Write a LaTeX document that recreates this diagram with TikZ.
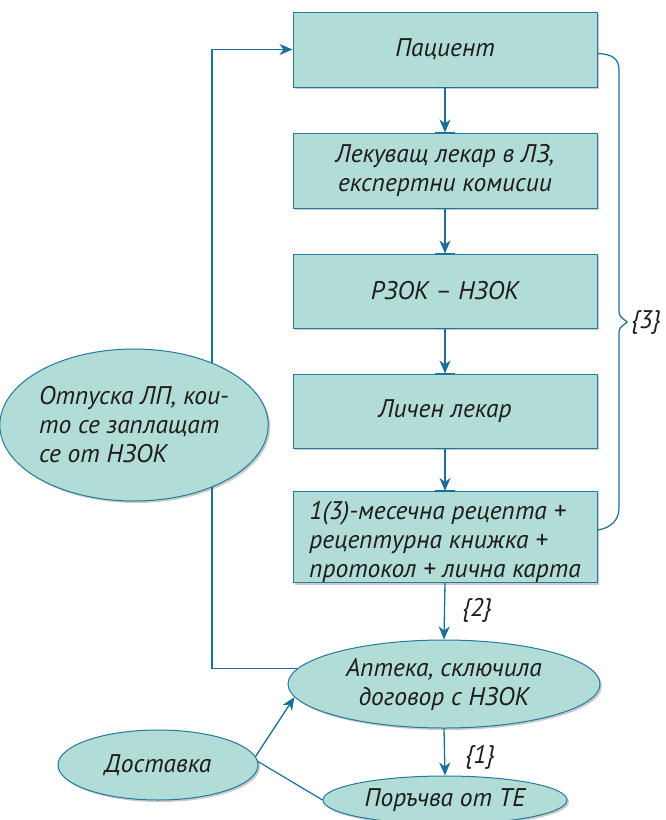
\documentclass[tikz,border=0pt]{standalone}
\usepackage{fontspec}
\setmainfont{PT Sans}
\usetikzlibrary{shapes.geometric,arrows.meta,shadows,backgrounds,calc}
\definecolor{boxfill}{HTML}{B1DDD6}
\definecolor{boxline}{HTML}{2379A0}
\definecolor{arrowc}{HTML}{1B6E98}
\definecolor{txtc}{HTML}{1E1B1C}
\tikzset{
  txt/.style={font=\fontsize{25.5}{29}\selectfont\itshape, text=txtc},
  shad/.style={drop shadow={shadow xshift=2pt, shadow yshift=-2pt, opacity=0.3, fill=black!70}},
  stepbox/.style={txt, rectangle, draw=boxline, line width=1pt, fill=boxfill, shad,
    minimum width=304pt, minimum height=75pt, inner sep=0pt, align=center},
  oval/.style={txt, ellipse, draw=boxline, line width=1pt, fill=boxfill, shad,
    inner sep=0pt, align=center},
  arr/.style={draw=arrowc, line width=1.3pt, -{Stealth[length=13pt,width=11pt,inset=4pt]}},
  conn/.style={draw=arrowc, line width=1.2pt},
  tabmark/.style={draw=arrowc, line width=1.6pt},
  lbl/.style={txt, inner sep=0pt}
}
\begin{document}
\begin{tikzpicture}[x=1pt,y=-1pt]
\useasboundingbox (0,0) rectangle (665,820);
\node[stepbox] (p1) at (445,49.5) {Пациент};
\node[stepbox] (p2) at (445,170.5) {Лекуващ лекар в ЛЗ,\\ експертни комисии};
\node[stepbox, minimum height=74pt] (p3) at (445,291) {РЗОК – НЗОК};
\node[stepbox, minimum height=74pt] (p4) at (445,411) {Личен лекар};
\node[stepbox, minimum height=88pt, align=left] (p5) at (445,537)
  {\rule{0pt}{28pt}1(3)-месечна рецепта +\\ рецептурна книжка +\\ протокол + лична карта};
\node[oval, minimum width=250pt, minimum height=152pt, align=left] (otp) at (134,425)
  {Отпуска ЛП, кои-\\ то се заплащат\\ се от НЗОК};
\node[oval, minimum width=312pt, minimum height=88pt] (apt) at (444,684)
  {Аптека, сключила\\ договор с НЗОК};
\node[oval, minimum width=200pt, minimum height=70pt] (dost) at (158,765) {Доставка};
\node[oval, minimum width=244pt, minimum height=48pt] (por) at (445,800) {Поръчва от ТЕ};
\coordinate (lc) at (212,49.5);
\begin{pgfonlayer}{background}
\draw[arr] (apt.174) -| (lc) -- (p1.west);
\end{pgfonlayer}
\draw[arr] (p1.south) -- (p2.north);
\draw[arr] (p2.south) -- (p3.north);
\draw[arr] (p3.south) -- (p4.north);
\draw[arr] (p4.south) -- (p5.north);
\draw[arr] (p5.south) -- (apt.north);
\draw[arr] (apt.south) -- (por.north);
\draw[arr] (dost.5) -- (apt.185);
\draw[conn] (dost.2) -- (por.west);
\foreach \n in {p1,p2,p3,p4}{
  \draw[tabmark] ([xshift=-10pt]\n.south) -- ([xshift=10pt]\n.south);}
\foreach \n in {p2,p3,p4,p5}{
  \draw[tabmark] ([xshift=-10pt]\n.north) -- ([xshift=10pt]\n.north);}
\draw[conn] ([yshift=-4pt]p1.east) .. controls (611,54) and (619,58) .. (619,70)
  -- (619,312) .. controls (619,318) and (626,320) .. (627,322)
  .. controls (626,324) and (619,326) .. (619,332)
  -- (619,508) .. controls (619,520) and (611,528) .. ([yshift=7pt]p5.east);
\node[lbl] (l3) at (646,322) {\{3\}};
\node[lbl] (l2) at (477,610) {\{2\}};
\node[lbl] (l1) at (480,757) {\{1\}};
\end{tikzpicture}
\end{document}
